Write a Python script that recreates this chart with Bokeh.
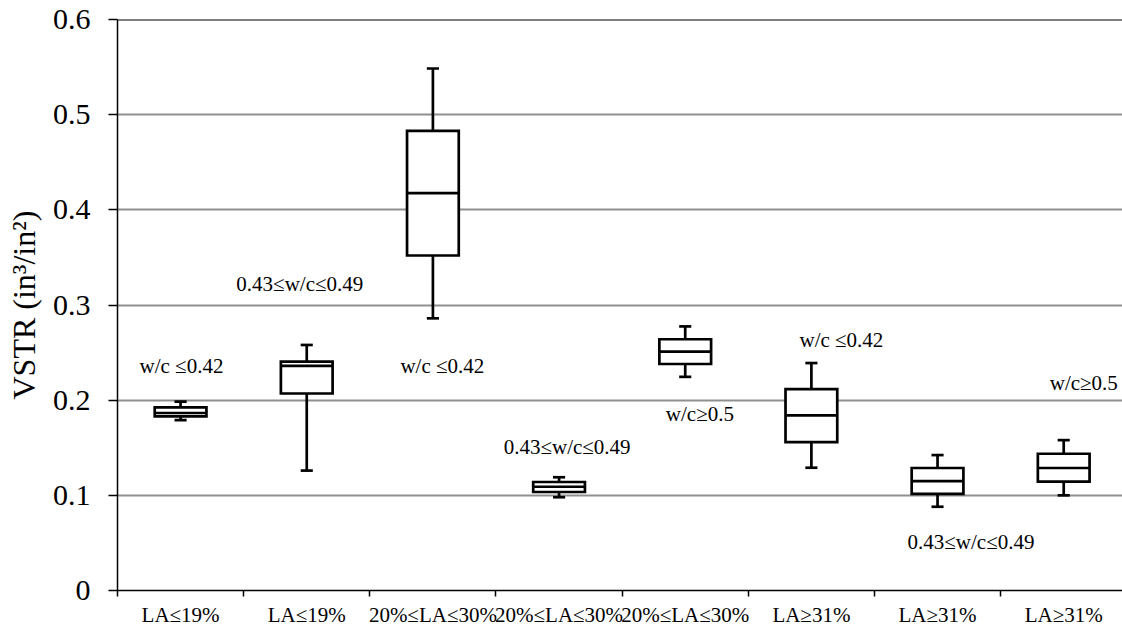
from bokeh.plotting import figure
from bokeh.models import FixedTicker, Span, ColumnDataSource
from bokeh.core.properties import value
from bokeh.embed import file_html
from bokeh.resources import INLINE

# Lightweight-aggregate content groups and their w/c ranges
categories = ["LA≤19%", "LA≤19%", "20%≤LA≤30%", "20%≤LA≤30%", "20%≤LA≤30%",
              "LA≥31%", "LA≥31%", "LA≥31%"]
wc_groups = ["w/c ≤0.42", "0.43≤w/c≤0.49", "w/c ≤0.42", "0.43≤w/c≤0.49", "w/c≥0.5",
             "w/c ≤0.42", "0.43≤w/c≤0.49", "w/c≥0.5"]

# VSTR box-plot statistics (in³/in²)
whisker_low = [0.179, 0.126, 0.286, 0.098, 0.2245, 0.129, 0.088, 0.100]
q1 = [0.183, 0.207, 0.352, 0.1035, 0.238, 0.156, 0.1015, 0.1145]
median = [0.1865, 0.236, 0.4175, 0.109, 0.251, 0.184, 0.115, 0.1287]
q3 = [0.1925, 0.2405, 0.483, 0.114, 0.264, 0.2115, 0.1287, 0.1437]
whisker_high = [0.1985, 0.258, 0.5485, 0.119, 0.2775, 0.239, 0.1423, 0.158]

y_ticks = [0, 0.1, 0.2, 0.3, 0.4, 0.5, 0.6]

# where each w/c note sits (category units, VSTR units)
note_x = [0.507, 1.445, 2.575, 3.564, 4.616, 5.738, 6.765, 7.659]
note_y = [0.236, 0.322, 0.236, 0.151, 0.185, 0.263, 0.051, 0.2185]

FONT = "Liberation Serif"
n = len(categories)
centers = [i + 0.5 for i in range(n)]
box_half = 0.205
cap_half = 0.048

src = ColumnDataSource(dict(
    x=centers, left=[c - box_half for c in centers], right=[c + box_half for c in centers],
    cap_l=[c - cap_half for c in centers], cap_r=[c + cap_half for c in centers],
    lo=whisker_low, q1=q1, med=median, q3=q3, hi=whisker_high,
))

p = figure(width=1122, height=629, x_range=(0, 7.966), y_range=(0, 0.6),
           output_backend="svg", toolbar_location=None,
           min_border_left=117, min_border_right=0, min_border_top=19, min_border_bottom=38)
p.outline_line_color = None
p.background_fill_color = "white"
p.border_fill_color = "white"

# whiskers and caps
p.segment(x0="x", y0="q3", x1="x", y1="hi", source=src, line_color="black", line_width=2.7)
p.segment(x0="x", y0="lo", x1="x", y1="q1", source=src, line_color="black", line_width=2.7)
p.segment(x0="cap_l", y0="hi", x1="cap_r", y1="hi", source=src, line_color="black", line_width=2.7)
p.segment(x0="cap_l", y0="lo", x1="cap_r", y1="lo", source=src, line_color="black", line_width=2.7)
# boxes and medians
p.quad(left="left", right="right", bottom="q1", top="q3", source=src,
       fill_color="white", line_color="black", line_width=2.7, line_join="miter")
p.segment(x0="left", y0="med", x1="right", y1="med", source=src, line_color="black", line_width=2.7)

# w/c notes
p.text(x=note_x, y=note_y, text=wc_groups, text_font=value(FONT), text_font_size="21px",
       text_align="center", text_baseline="middle", text_color="black")

# top border
p.add_layout(Span(location=0.6, dimension="width", line_color="black", line_width=2))

# y axis
p.yaxis.ticker = FixedTicker(ticks=y_ticks)
p.yaxis.major_label_overrides = {0: "0"}
p.yaxis.axis_label = "VSTR (in³/in²)"
p.yaxis.axis_label_text_font = FONT
p.yaxis.axis_label_text_font_style = "normal"
p.yaxis.axis_label_text_font_size = "32px"
p.yaxis.axis_label_text_color = "black"
p.yaxis.axis_label_standoff = 8
p.yaxis.major_label_text_font = FONT
p.yaxis.major_label_text_font_size = "30px"
p.yaxis.major_label_text_color = "black"
p.yaxis.major_label_standoff = 18
p.yaxis.major_tick_in = 0
p.yaxis.major_tick_out = 9
p.yaxis.minor_tick_in = 0
p.yaxis.minor_tick_out = 0
p.yaxis.axis_line_color = "black"
p.yaxis.axis_line_width = 1.5
p.yaxis.major_tick_line_color = "black"
p.yaxis.major_tick_line_width = 1.5

# x axis: labels at group centres, ticks on group boundaries
p.xaxis.ticker = FixedTicker(ticks=centers, minor_ticks=list(range(n + 1)))
p.xaxis.major_label_overrides = {c: lab for c, lab in zip(centers, categories)}
p.xaxis.major_label_text_font = FONT
p.xaxis.major_label_text_font_size = "21px"
p.xaxis.major_label_text_color = "black"
p.xaxis.major_label_standoff = 6
p.xaxis.major_tick_in = 0
p.xaxis.major_tick_out = 0
p.xaxis.minor_tick_in = 0
p.xaxis.minor_tick_out = 6
p.xaxis.minor_tick_line_color = "black"
p.xaxis.minor_tick_line_width = 1.5
p.xaxis.axis_line_color = "black"
p.xaxis.axis_line_width = 1.5

# grid
p.xgrid.visible = False
p.ygrid.ticker = FixedTicker(ticks=[0.1, 0.2, 0.3, 0.4, 0.5])
p.ygrid.grid_line_color = "#8f8f8f"
p.ygrid.grid_line_width = 2

open("out.html", "w").write(file_html(p, INLINE))
